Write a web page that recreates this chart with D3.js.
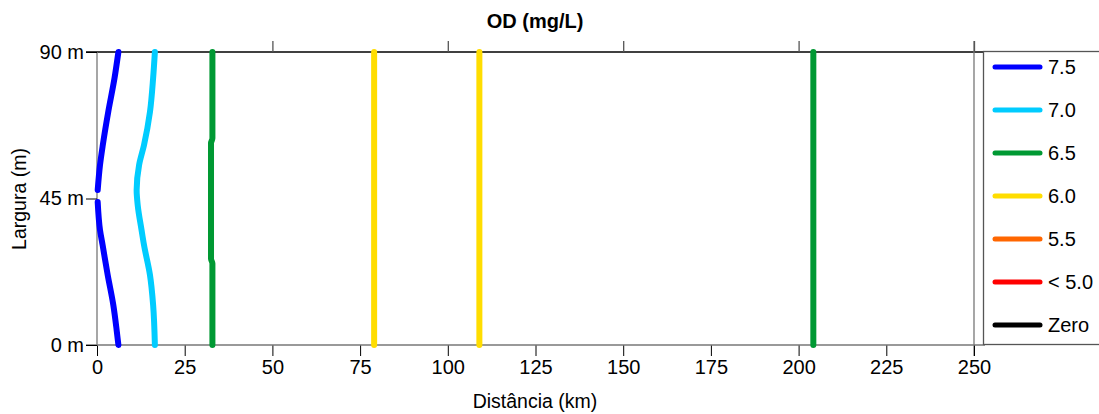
<!DOCTYPE html>
<meta charset="utf-8">
<style>
body { margin: 0; background: #fff; }
text { font-family: "Liberation Sans", Arial, sans-serif; fill: #000; }
.curve { fill: none; stroke-width: 6px; stroke-linecap: round; stroke-linejoin: round; }
</style>
<body>
<script src="https://d3js.org/d3.v7.min.js"></script>
<script>

// OD levels shown in the legend
var levels = ["7.5", "7.0", "6.5", "6.0", "5.5", "< 5.0", "Zero"];
var levelColors = ["#0000ff", "#00ccff", "#009933", "#ffdd00", "#ff6600", "#ff0000", "#000000"];

// isolines: [distance km, width m]
var od75a = [[6.1, 90], [5.0, 82], [3.2, 71.6], [1.65, 61.4], [0.86, 55.3], [0.2, 47.6]];
var od75b = [[0.2, 43.9], [0.86, 35.3], [1.6, 30.7], [3.05, 21.5], [4.65, 12.3], [5.6, 4.6], [6.1, 0]];
var od70 = [[16.5, 90], [16.0, 82], [15.1, 71.6], [13.4, 61.4], [12.0, 55.3], [11.3, 47.6],
            [11.6, 43], [12.7, 35.3], [13.4, 30.7], [15.1, 21.5], [16.0, 12.3], [16.5, 0]];
var od65a = [[32.9, 90], [32.9, 63.5], [32.5, 62], [32.5, 26.5], [32.9, 25], [32.9, 0]];
var od65b = [[204.2, 90], [204.2, 0]];
var od60a = [[79, 90], [79, 0]];
var od60b = [[109, 90], [109, 0]];

var xTicks = [0, 25, 50, 75, 100, 125, 150, 175, 200, 225, 250];
var xTopTicks = [50, 100, 150, 200, 250];
var yTicks = [0, 45, 90];

var isolines = [
  {level: "7.5", pts: od75a}, {level: "7.5", pts: od75b},
  {level: "7.0", pts: od70},
  {level: "6.5", pts: od65a}, {level: "6.5", pts: od65b},
  {level: "6.0", pts: od60a}, {level: "6.0", pts: od60b}
];

var W = 1099, H = 414;
var pLeft = 97, pRight = 974, pTop = 52, pBottom = 345;

var x = d3.scaleLinear().domain([0, 250]).range([pLeft, pRight]);
var y = d3.scaleLinear().domain([0, 90]).range([pBottom, pTop]);
var color = d3.scaleOrdinal().domain(levels).range(levelColors);

var svg = d3.select("body").append("svg")
    .attr("width", W)
    .attr("height", H);

// frame lines
svg.append("line").attr("x1", 86).attr("x2", 983).attr("y1", pTop).attr("y2", pTop)
    .attr("stroke", "#000").attr("stroke-width", 1.3);
svg.append("line").attr("x1", pLeft).attr("x2", pLeft).attr("y1", pTop).attr("y2", pBottom)
    .attr("stroke", "#777").attr("stroke-width", 1.3);
svg.append("line").attr("x1", pRight).attr("x2", pRight).attr("y1", 41).attr("y2", 356)
    .attr("stroke", "#777").attr("stroke-width", 1.3);

// bottom axis
var xAxis = svg.append("g")
    .attr("transform", "translate(0," + pBottom + ")")
    .call(d3.axisBottom(x).tickValues(xTicks).tickSize(11).tickPadding(4).tickSizeOuter(0));
xAxis.select(".domain").remove();
xAxis.append("line").attr("x1", 86).attr("x2", 985).attr("stroke", "#777").attr("stroke-width", 1.3);
xAxis.selectAll(".tick line").attr("stroke", "#000").attr("stroke-width", 1);
xAxis.selectAll(".tick text").attr("font-size", 20).attr("fill", "#000")
    .attr("font-family", "Liberation Sans, Arial, sans-serif");

// top ticks
var xTop = svg.append("g")
    .attr("transform", "translate(0," + pTop + ")")
    .call(d3.axisTop(x).tickValues(xTopTicks).tickSize(11).tickFormat(""));
xTop.select(".domain").remove();
xTop.selectAll(".tick line").attr("stroke", "#555").attr("stroke-width", 1.3);

// left axis
var yAxis = svg.append("g")
    .attr("transform", "translate(" + pLeft + ",0)")
    .call(d3.axisLeft(y).tickValues(yTicks).tickSize(11).tickPadding(2)
      .tickFormat(function(d) { return d + " m"; }));
yAxis.select(".domain").remove();
yAxis.selectAll(".tick line").attr("stroke", "#000").attr("stroke-width", 1);
yAxis.selectAll(".tick text").attr("font-size", 20).attr("fill", "#000")
    .attr("font-family", "Liberation Sans, Arial, sans-serif");

// isolines
var line = d3.line()
    .x(function(d) { return x(d[0]); })
    .y(function(d) { return y(d[1]); })
    .curve(d3.curveMonotoneY);

svg.selectAll(".curve")
    .data(isolines)
  .enter().append("path")
    .attr("class", "curve")
    .attr("stroke", function(d) { return color(d.level); })
    .attr("d", function(d) { return line(d.pts); });

// titles
svg.append("text").attr("x", 535).attr("y", 28).attr("text-anchor", "middle")
    .attr("font-size", 20).attr("font-weight", "bold").text("OD (mg/L)");
svg.append("text").attr("x", 535).attr("y", 408).attr("text-anchor", "middle")
    .attr("font-size", 19.5).text("Distância (km)");
svg.append("text")
    .attr("transform", "translate(26,199) rotate(-90)")
    .attr("text-anchor", "middle")
    .attr("font-size", 19.5).text("Largura (m)");

// legend
var legend = svg.append("g");
legend.append("rect").attr("x", 983.5).attr("y", 51.5).attr("width", 130).attr("height", 293)
    .attr("fill", "#fff").attr("stroke", "#555").attr("stroke-width", 1.3);
var legendY = d3.scalePoint().domain(levels).range([67, 325]);
var item = legend.selectAll(".item")
    .data(levels)
  .enter().append("g")
    .attr("transform", function(d) { return "translate(0," + legendY(d) + ")"; });
item.append("line").attr("x1", 995).attr("x2", 1040)
    .attr("stroke", function(d) { return color(d); })
    .attr("stroke-width", 5).attr("stroke-linecap", "round");
item.append("text").attr("x", 1048).attr("dy", "0.35em")
    .attr("font-size", 20).text(function(d) { return d; });

</script>
</body>
